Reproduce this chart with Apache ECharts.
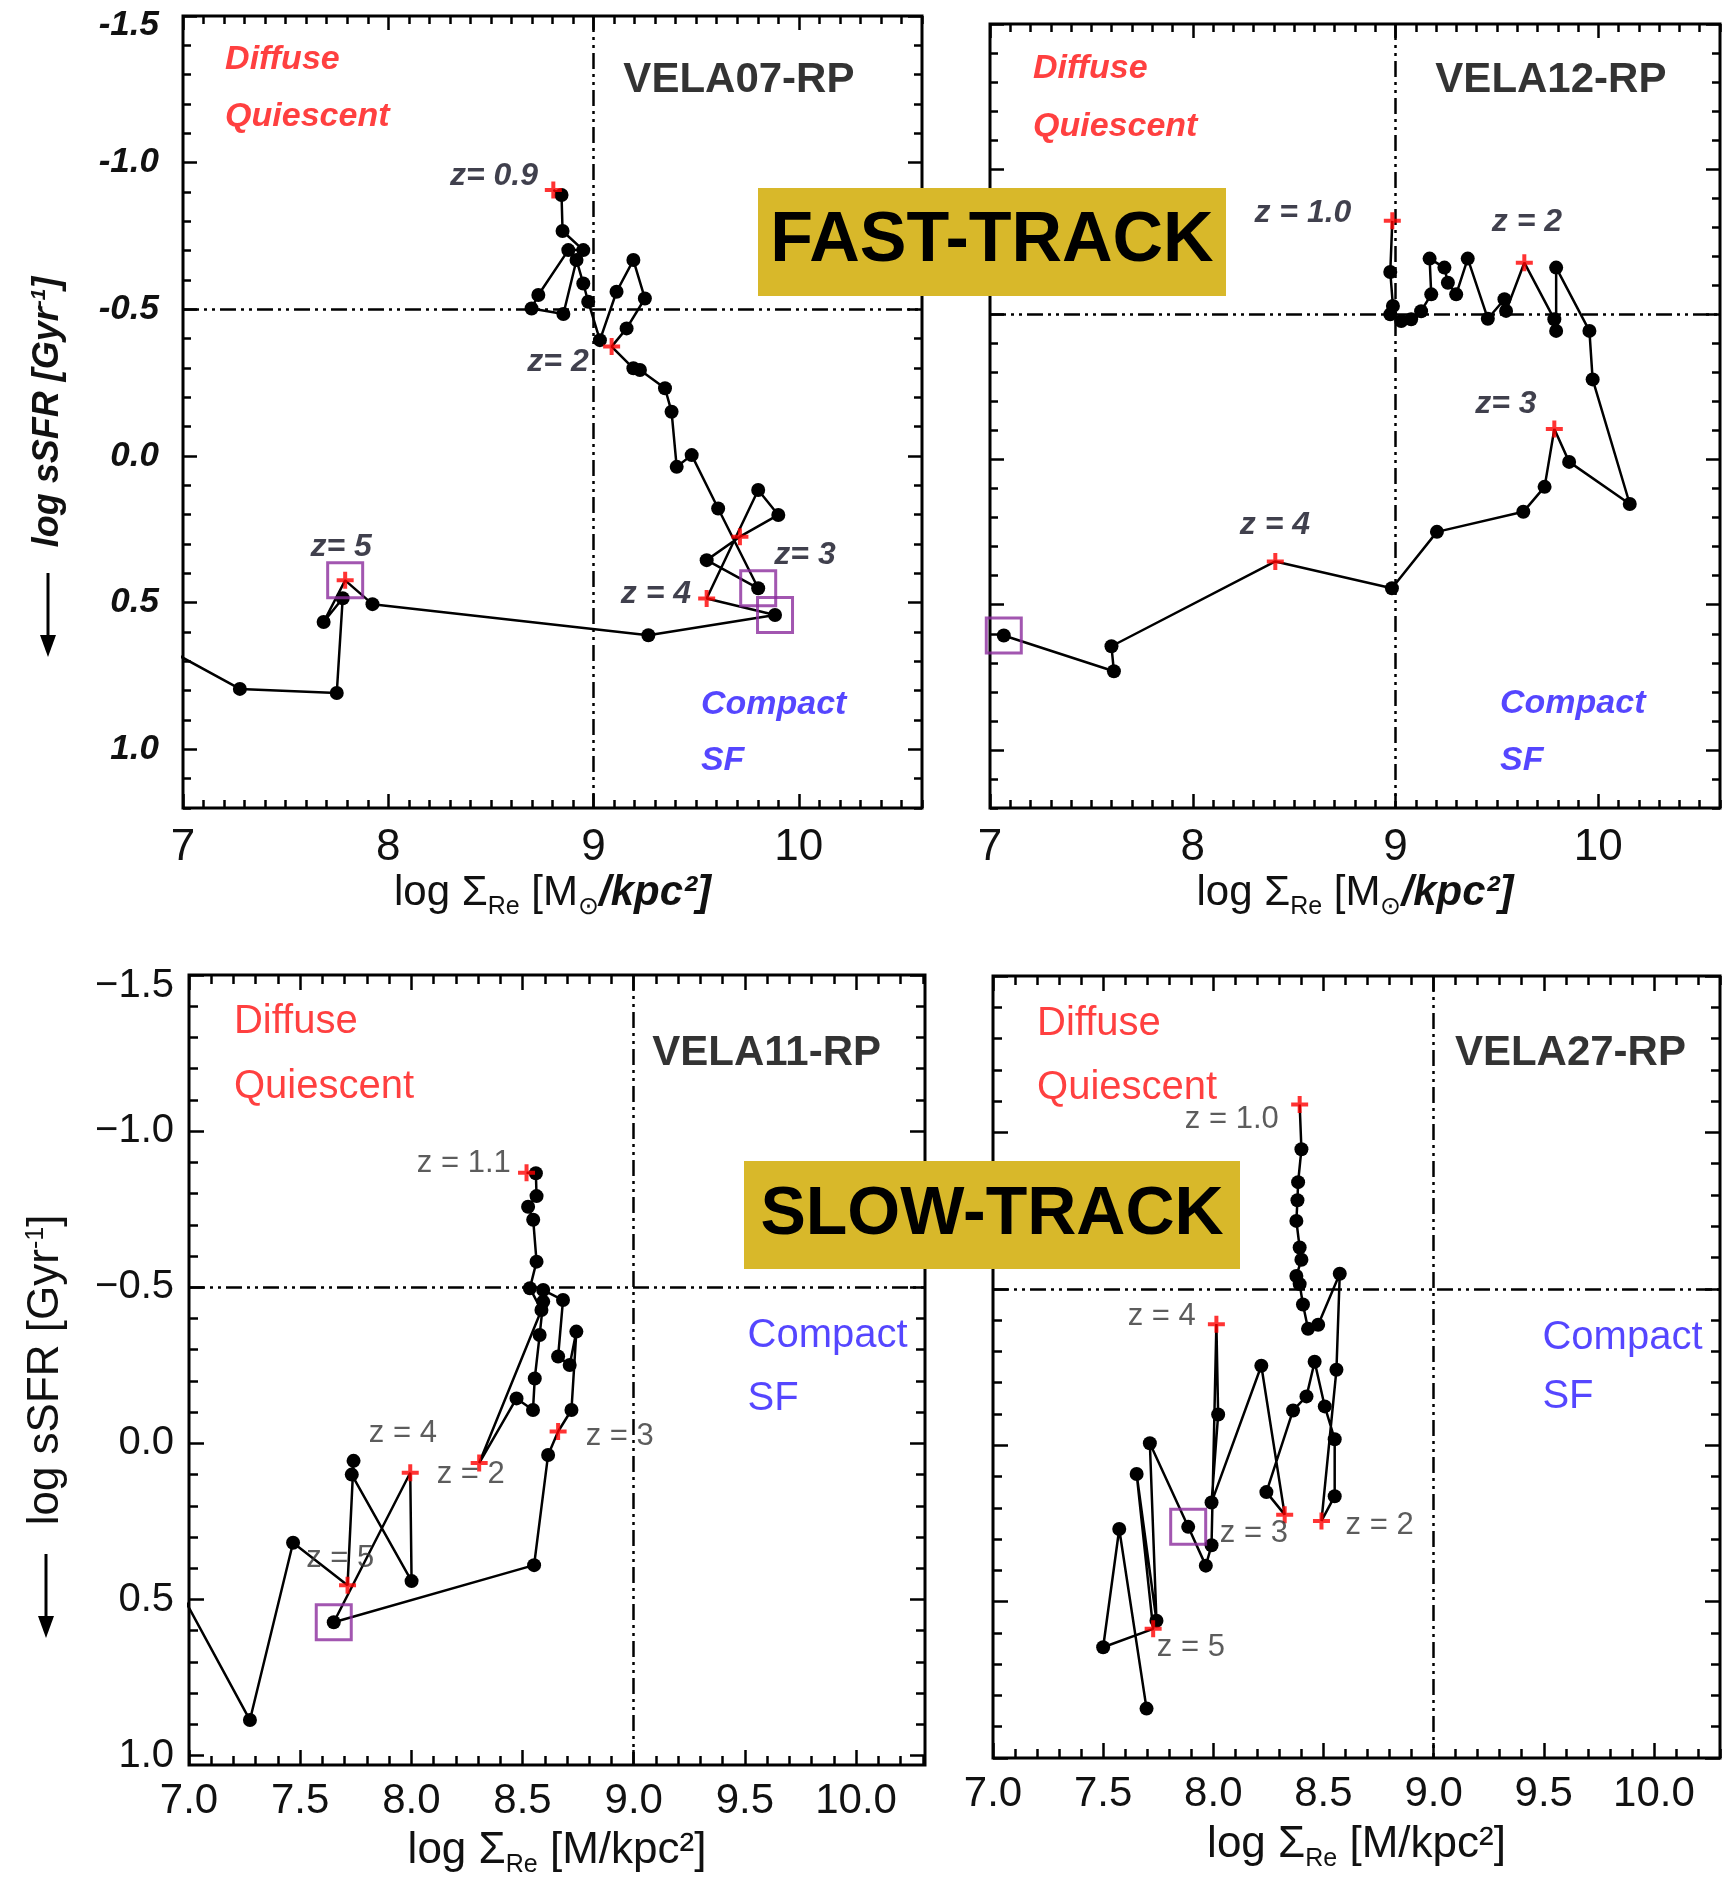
<!DOCTYPE html>
<html>
<head>
<meta charset="utf-8">
<script src="https://cdn.jsdelivr.net/npm/echarts@6/dist/echarts.min.js"></script>
<style>
html, body { margin: 0; padding: 0; background: #fff; }
#plot { width: 1731px; height: 1878px; }
</style>
</head>
<body>
<div id="plot"></div>
<script>
// ---- data: tracks in (log Sigma_Re, log sSFR), ordered high z -> low z ----
// VELA07-RP
const v07X = [6.90, 7.277, 7.749, 7.778, 7.685, 7.790, 7.923, 9.267, 9.884, 9.551, 9.802, 9.900, 9.713, 9.551, 9.802, 9.607, 9.478, 9.405, 9.380, 9.348, 9.226, 9.194, 9.088, 9.161, 9.250, 9.194, 9.112, 9.031, 8.974, 8.950, 8.917, 8.853, 8.698, 8.731, 8.877, 8.950, 8.849, 8.844, 8.804];
const v07Y = [0.65, 0.794, 0.808, 0.485, 0.566, 0.424, 0.505, 0.611, 0.542, 0.486, 0.116, 0.201, 0.275, 0.355, 0.451, 0.179, -0.003, 0.037, -0.151, -0.231, -0.293, -0.299, -0.373, -0.435, -0.537, -0.668, -0.560, -0.395, -0.526, -0.588, -0.668, -0.484, -0.503, -0.549, -0.702, -0.702, -0.767, -0.890, -0.907];
const v07Cross = [5, 9, 12, 22, 38];
const v07Box = [5, 8, 14];

// VELA12-RP
const v12X = [7.068, 7.611, 7.599, 8.407, 8.982, 9.204, 9.630, 9.735, 9.783, 9.856, 10.155, 9.972, 9.956, 9.792, 9.792, 9.783, 9.635, 9.545, 9.537, 9.455, 9.356, 9.299, 9.258, 9.241, 9.168, 9.176, 9.126, 9.077, 9.028, 8.974, 8.987, 8.974, 8.984];
const v12Y = [0.606, 0.729, 0.643, 0.351, 0.443, 0.249, 0.180, 0.094, -0.105, 0.008, 0.153, -0.276, -0.443, -0.661, -0.443, -0.483, -0.678, -0.512, -0.552, -0.485, -0.692, -0.569, -0.609, -0.661, -0.692, -0.569, -0.511, -0.483, -0.477, -0.500, -0.529, -0.646, -0.822];
const v12Cross = [3, 8, 16, 32];
const v12Box = [0];

// VELA11-RP
const v11X = [6.97, 7.274, 7.468, 7.713, 7.740, 7.732, 8.001, 7.995, 7.651, 8.552, 8.615, 8.660, 8.720, 8.742, 8.712, 8.660, 8.682, 8.593, 8.593, 8.577, 8.555, 8.547, 8.473, 8.305, 8.585, 8.533, 8.563, 8.548, 8.525, 8.563, 8.560, 8.518];
const v11Y = [0.487, 0.886, 0.318, 0.454, 0.056, 0.100, 0.441, 0.094, 0.573, 0.390, 0.037, -0.038, -0.107, -0.358, -0.251, -0.278, -0.459, -0.491, -0.454, -0.347, -0.208, -0.107, -0.144, 0.063, -0.427, -0.497, -0.582, -0.716, -0.758, -0.792, -0.865, -0.867];
const v11Cross = [3, 7, 11, 23, 31];
const v11Box = [8];

// VELA27-RP
const v27X = [7.697, 7.573, 7.500, 7.727, 7.652, 7.742, 7.712, 7.886, 7.966, 7.992, 8.014, 8.022, 7.992, 8.218, 8.324, 8.241, 8.362, 8.423, 8.460, 8.506, 8.551, 8.551, 8.491, 8.559, 8.574, 8.476, 8.430, 8.407, 8.392, 8.377, 8.400, 8.392, 8.377, 8.382, 8.385, 8.400, 8.392];
const v27Y = [0.842, 0.268, 0.646, 0.587, 0.092, 0.561, -0.006, 0.261, 0.385, 0.320, -0.387, -0.098, 0.183, -0.254, 0.222, 0.150, -0.111, -0.156, -0.267, -0.124, -0.019, 0.163, 0.242, -0.241, -0.548, -0.385, -0.372, -0.450, -0.515, -0.541, -0.593, -0.632, -0.717, -0.783, -0.841, -0.946, -1.089];
const v27Cross = [3, 10, 14, 22, 36];
const v27Box = [7];

// tick labels
const xTicksTop = [7, 8, 9, 10];
const xTicksBottom = [7, 7.5, 8, 8.5, 9, 9.5, 10];
const yTicks = [-1.5, -1, -0.5, 0, 0.5, 1];
const sigmaCut = 9;     // vertical divider
const ssfrCut = -0.5;   // horizontal divider

// ---- layout ----
const SANS = "'Liberation Sans', Arial, sans-serif";
const RED = '#ff1010', BLUE = '#2a18ff';

const panels = [
  { xs: v07X, ys: v07Y, cross: v07Cross, boxes: v07Box, top: true, yLabels: true,
    rect: { left: 183, top: 16, width: 739, height: 792 }, xMax: 10.6, yMin: -1.5, yMax: 1.2,
    notes: [['Diffuse', 7.205, -1.35, 'q'], ['Quiescent', 7.205, -1.156, 'q'], ['VELA07-RP', 9.708, -1.282, 'n'],
            ['Compact', 9.523, 0.846, 'c'], ['SF', 9.523, 1.04, 'c'], ['z= 0.9', 8.515, -0.955, 'z'],
            ['z= 2', 8.827, -0.32, 'z'], ['z= 5', 7.77, 0.31, 'z'], ['z = 4', 9.304, 0.471, 'z'], ['z= 3', 10.03, 0.338, 'z']] },
  { xs: v12X, ys: v12Y, cross: v12Cross, boxes: v12Box, top: true, yLabels: false,
    rect: { left: 990, top: 24, width: 730, height: 784 }, xMax: 10.6, yMin: -1.5, yMax: 1.2,
    notes: [['Diffuse', 7.212, -1.345, 'q'], ['Quiescent', 7.212, -1.145, 'q'], ['VELA12-RP', 9.766, -1.307, 'n'],
            ['Compact', 9.515, 0.842, 'c'], ['SF', 9.515, 1.038, 'c'], ['z = 1.0', 8.543, -0.849, 'z'],
            ['z = 2', 9.648, -0.818, 'z'], ['z= 3', 9.544, -0.191, 'z'], ['z = 4', 8.405, 0.225, 'z']] },
  { xs: v11X, ys: v11Y, cross: v11Cross, boxes: v11Box, top: false, yLabels: true,
    rect: { left: 189, top: 975, width: 736, height: 790 }, xMax: 10.31, yMin: -1.5, yMax: 1.03,
    notes: [['Diffuse', 7.202, -1.35, 'q'], ['Quiescent', 7.202, -1.141, 'q'], ['VELA11-RP', 9.598, -1.25, 'n'],
            ['Compact', 9.512, -0.344, 'c'], ['SF', 9.512, -0.142, 'c'], ['z = 1.1', 8.236, -0.898, 'z'],
            ['z = 4', 7.962, -0.033, 'z'], ['z = 2', 8.267, 0.10, 'z'], ['z = 3', 8.937, -0.021, 'z'], ['z = 5', 7.68, 0.37, 'z']] },
  { xs: v27X, ys: v27Y, cross: v27Cross, boxes: v27Box, top: false, yLabels: false,
    rect: { left: 993, top: 976, width: 727, height: 782 }, xMax: 10.3, yMin: -1.5, yMax: 1.0,
    notes: [['Diffuse', 7.2, -1.347, 'q'], ['Quiescent', 7.2, -1.142, 'q'], ['VELA27-RP', 9.621, -1.254, 'n'],
            ['Compact', 9.494, -0.343, 'c'], ['SF', 9.494, -0.154, 'c'], ['z = 1.0', 8.084, -1.04, 'z'],
            ['z = 4', 7.766, -0.41, 'z'], ['z = 3', 8.184, 0.283, 'z'], ['z = 2', 8.755, 0.255, 'z'], ['z = 5', 7.898, 0.648, 'z']] }
];

function steps(lo, hi, step) {
  const out = [];
  for (let k = Math.ceil(lo / step - 1e-6); k * step <= hi + 1e-6; k++) out.push(+(k * step).toFixed(2));
  return out;
}

function noteLabel(kind, top) {
  if (kind === 'q' || kind === 'c') {
    const color = kind === 'q' ? RED : BLUE;
    return top
      ? { align: 'left', color, fontFamily: SANS, fontStyle: 'italic', fontWeight: 'bold', fontSize: 34 }
      : { align: 'left', color, fontFamily: SANS, fontSize: 40 };
  }
  if (kind === 'n') return { align: 'center', color: '#000', fontFamily: SANS, fontWeight: 'bold', fontSize: 42 };
  return top
    ? { align: 'center', color: '#101020', fontFamily: SANS, fontStyle: 'italic', fontWeight: 'bold', fontSize: 32 }
    : { align: 'center', color: '#333', fontFamily: SANS, fontSize: 31 };
}

function axis(g, pos, min, max, ticks, len, extra) {
  return Object.assign({
    gridIndex: g, type: 'value', position: pos, min, max,
    inverse: pos === 'left' || pos === 'right',
    axisLine: { show: false, onZero: false }, splitLine: { show: false }, axisPointer: { show: false },
    axisTick: { show: true, inside: true, length: len, customValues: ticks, lineStyle: { color: '#000', width: 2.5 } },
    axisLabel: { show: false },
    nameMoveOverlap: false
  }, extra || {});
}

// the top-most y label sits just below its tick, as in the original
function yFmt(top) {
  return v => {
    const s = top ? v.toFixed(1) : v.toFixed(1).replace('-', '−');
    return v === -1.5 ? '{t|' + s + '}' : s;
  };
}

const grids = [], xAxes = [], yAxes = [], series = [];
const crossPath = 'path://M6.5,0h4v6.5h6.5v4h-6.5v6.5h-4v-6.5h-6.5v-4h6.5z';

panels.forEach((p, g) => {
  grids.push(Object.assign({ show: true, borderColor: '#000', borderWidth: 3, backgroundColor: 'transparent',
    outerBoundsMode: 'none', containLabel: false }, p.rect));
  const majX = p.top ? xTicksTop : xTicksBottom;
  const minX = steps(7, p.xMax, 0.1);
  const minY = steps(p.yMin, p.yMax, 0.1);
  const majLen = p.top ? 14 : 15, minLen = p.top ? 8 : 9;
  const xi = xAxes.length, yi = yAxes.length;

  const xName = p.top
    ? '{r|log Σ}{s|Re}{r| [M}{s|⊙}{i|/kpc²]}'
    : '{r|log Σ}{s|Re}{r| [M/kpc²]}';
  const tSize = p.top ? 42 : 44;
  const xLabelFont = p.top
    ? { fontFamily: SANS, fontSize: 44, color: '#111', margin: 18 }
    : { fontFamily: SANS, fontSize: 42, color: '#111', margin: 15 };

  xAxes.push(axis(g, 'bottom', 7, p.xMax, majX, majLen, {
    axisLabel: Object.assign({ show: true, customValues: majX,
      formatter: v => p.top ? String(v) : v.toFixed(1) }, xLabelFont),
    name: xName, nameLocation: 'middle', nameGap: p.top ? 85 : (g === 3 ? 87 : 86),
    nameTextStyle: { verticalAlign: 'middle', rich: {
      r: { fontFamily: SANS, fontSize: tSize, color: '#111' },
      s: { fontFamily: SANS, fontSize: 25, color: '#111', padding: [28, 0, 0, 0] },
      i: { fontFamily: SANS, fontSize: tSize, color: '#111', fontStyle: 'italic', fontWeight: 'bold' }
    } }
  }));
  xAxes.push(axis(g, 'bottom', 7, p.xMax, minX, minLen));
  xAxes.push(axis(g, 'top', 7, p.xMax, majX, majLen));
  xAxes.push(axis(g, 'top', 7, p.xMax, minX, minLen));

  const yExtra = {};
  if (p.yLabels) {
    yExtra.axisLabel = p.top
      ? { show: true, customValues: yTicks, formatter: yFmt(true), fontFamily: SANS, fontStyle: 'italic',
          fontWeight: 'bold', fontSize: 35, color: '#111', margin: 24,
          rich: { t: { fontFamily: SANS, fontStyle: 'italic', fontWeight: 'bold', fontSize: 35, color: '#111', padding: [18, 0, 0, 0] } } }
      : { show: true, customValues: yTicks, formatter: yFmt(false), fontFamily: SANS,
          fontSize: 40, color: '#111', margin: 15,
          rich: { t: { fontFamily: SANS, fontSize: 40, color: '#111', padding: [22, 0, 0, 0] } } };
    yExtra.name = '{a|log sSFR [Gyr}{b|-1}{a|]}';
    yExtra.nameLocation = 'middle';
    yExtra.nameRotate = 90;
    yExtra.nameGap = p.top ? 135 : 143;
    yExtra.nameTextStyle = { verticalAlign: 'middle', rich: p.top ? {
      a: { fontFamily: SANS, fontStyle: 'italic', fontWeight: 'bold', fontSize: 36, color: '#111' },
      b: { fontFamily: SANS, fontStyle: 'italic', fontWeight: 'bold', fontSize: 21, color: '#111', padding: [0, 0, 18, 0] }
    } : {
      a: { fontFamily: SANS, fontSize: 44, color: '#111' },
      b: { fontFamily: SANS, fontSize: 25, color: '#111', padding: [0, 0, 20, 0] }
    } };
  }
  yAxes.push(axis(g, 'left', p.yMin, p.yMax, yTicks, majLen, yExtra));
  yAxes.push(axis(g, 'left', p.yMin, p.yMax, minY, minLen));
  yAxes.push(axis(g, 'right', p.yMin, p.yMax, yTicks, majLen));
  yAxes.push(axis(g, 'right', p.yMin, p.yMax, minY, minLen));

  // quadrant dividers
  series.push({
    type: 'line', xAxisIndex: xi, yAxisIndex: yi, data: [], z: 1, silent: true,
    markLine: { silent: true, symbol: 'none', animation: false, label: { show: false },
      lineStyle: { color: '#000', width: 2.5, type: [16, 5, 3, 5, 3, 5] },
      data: [{ xAxis: sigmaCut }, { yAxis: ssfrCut }] }
  });
  // track
  series.push({
    type: 'line', xAxisIndex: xi, yAxisIndex: yi, z: 3, clip: true, silent: true,
    data: p.xs.map((x, i) => ({ value: [x, p.ys[i]], symbol: p.cross.includes(i) ? 'none' : 'circle' })),
    symbolSize: 14, itemStyle: { color: '#000' }, lineStyle: { color: '#000', width: 2.5 }
  });
  // purple boxes
  series.push({
    type: 'scatter', xAxisIndex: xi, yAxisIndex: yi, z: 4, silent: true, symbol: 'rect', symbolSize: 35,
    data: p.boxes.map(i => [p.xs[i], p.ys[i]]),
    itemStyle: { color: 'rgba(0,0,0,0)', borderColor: '#8b2c9c', borderWidth: 3 }
  });
  // redshift markers
  series.push({
    type: 'scatter', xAxisIndex: xi, yAxisIndex: yi, z: 5, silent: true, symbol: crossPath, symbolSize: 17,
    data: p.cross.map(i => [p.xs[i], p.ys[i]]), itemStyle: { color: '#ff0000' }
  });
  // text notes
  series.push({
    type: 'scatter', xAxisIndex: xi, yAxisIndex: yi, z: 6, silent: true, symbolSize: 1,
    itemStyle: { color: 'rgba(0,0,0,0)' },
    label: { show: true, position: 'inside', formatter: '{b}', verticalAlign: 'middle' },
    data: p.notes.map(n => ({ name: n[0], value: [n[1], n[2]], label: noteLabel(n[3], p.top) }))
  });
});

function arrow(x, y1, y2) {
  return [
    { type: 'line', z: 50, shape: { x1: x, y1: y1, x2: x, y2: y2 - 14 }, style: { stroke: '#000', lineWidth: 3 } },
    { type: 'polygon', z: 50, shape: { points: [[x - 8, y2 - 22], [x + 8, y2 - 22], [x, y2]] }, style: { fill: '#000' } }
  ];
}

function banner(x, y, w, h, text, size) {
  return [
    { type: 'rect', z: 100, shape: { x, y, width: w, height: h }, style: { fill: '#d8b82a' } },
    { type: 'text', z: 101, x: x + w / 2, y: y + h / 2,
      style: { text, fill: '#000', fontFamily: SANS, fontWeight: 900, fontSize: size, align: 'center', verticalAlign: 'middle' } }
  ];
}

const chart = echarts.init(document.getElementById('plot'), null, { renderer: 'canvas' });
chart.setOption({
  animation: false,
  backgroundColor: '#fff',
  textStyle: { fontFamily: SANS },
  grid: grids,
  xAxis: xAxes,
  yAxis: yAxes,
  series: series,
  graphic: [].concat(
    { type: 'rect', z: 90, shape: { x: 0, y: 918, width: 1731, height: 46 }, style: { fill: '#fff' } },
    arrow(48, 573, 657),
    arrow(46, 1554, 1638),
    banner(758, 188, 468, 108, 'FAST-TRACK', 70),
    banner(744, 1161, 496, 108, 'SLOW-TRACK', 68)
  )
});
</script>
</body>
</html>
